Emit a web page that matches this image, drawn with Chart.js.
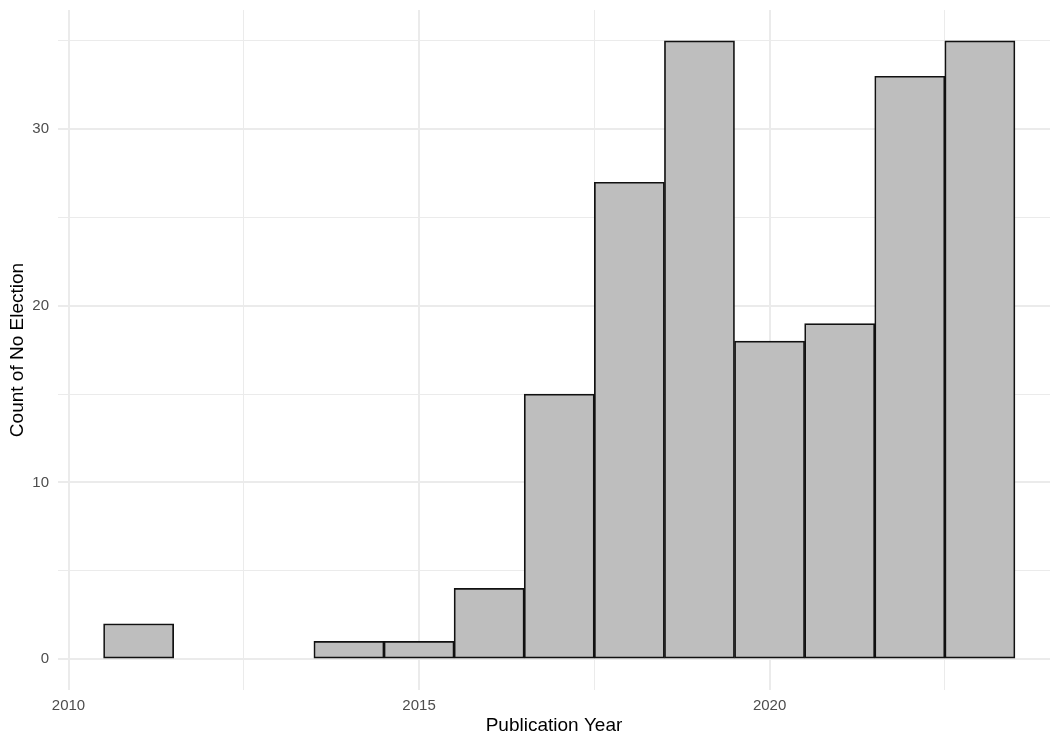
<!DOCTYPE html>
<html>
<head>
<meta charset="utf-8">
<script src="https://cdn.jsdelivr.net/npm/chart.js@4"></script>
<style>
  body { margin: 0; background: #fff; }
  #wrap { width: 1050px; height: 737px; }
</style>
</head>
<body>
<div id="wrap"><canvas id="hist" width="1050" height="737"></canvas></div>
<script>
// publication year bins (one bar per year) and counts
const years = [2011, 2012, 2013, 2014, 2015, 2016, 2017, 2018, 2019, 2020, 2021, 2022, 2023];
const counts = [2, null, null, 1, 1, 4, 15, 27, 35, 18, 19, 33, 35];
const xLabels = [2010, 2015, 2020];
const yLabels = [0, 10, 20, 30];

const gridColor = "#ebebeb";
const tickColor = "#4d4d4d";

let ctx = document.getElementById("hist").getContext("2d");

new Chart(ctx, {
  type: "bar",
  data: {
    datasets: [
      {
        data: years.map((y, i) => ({ x: y, y: counts[i] })),
        backgroundColor: "#bebebe",
        borderColor: "#111111",
        borderWidth: 1.7,
        borderSkipped: false,
        barPercentage: 1,
        categoryPercentage: 1,
      },
    ],
  },
  options: {
    responsive: false,
    animation: false,
    layout: { padding: { top: 10, right: 0, left: 0, bottom: 0 } },
    plugins: {
      legend: { display: false },
      tooltip: { enabled: false },
    },
    scales: {
      x: {
        type: "linear",
        offset: false,
        min: 2009.85,
        max: 2024.0,
        border: { display: false },
        grid: {
          offset: false,
          color: gridColor,
          drawTicks: false,
          lineWidth: (c) => (c.tick && c.tick.value % 5 === 0 ? 2 : 1),
        },
        ticks: {
          stepSize: 2.5,
          includeBounds: false,
          autoSkip: false,
          maxRotation: 0,
          padding: 7,
          color: tickColor,
          font: { family: "Liberation Sans", size: 15 },
          callback: (v) => (xLabels.includes(v) ? String(v) : ""),
        },
        title: {
          display: true,
          text: "Publication Year",
          color: "#000",
          font: { family: "Liberation Sans", size: 19 },
          padding: { top: 0, bottom: 0 },
        },
        afterFit: (scale) => {
          scale.height = 47;
          scale.paddingLeft = 0;
          scale.paddingRight = 0;
        },
      },
      y: {
        min: -1.75,
        max: 36.75,
        border: { display: false },
        grid: {
          color: gridColor,
          drawTicks: false,
          lineWidth: (c) => (c.tick && c.tick.value % 10 === 0 ? 2 : 1),
        },
        ticks: {
          stepSize: 5,
          includeBounds: false,
          padding: 9,
          color: tickColor,
          font: { family: "Liberation Sans", size: 15 },
          callback: (v) => (yLabels.includes(v) ? String(v) : ""),
        },
        title: {
          display: true,
          text: "Count of No Election",
          color: "#000",
          font: { family: "Liberation Sans", size: 19 },
          padding: { top: 6, bottom: 0 },
        },
        afterFit: (scale) => {
          scale.width = 58;
          scale.paddingTop = 0;
          scale.paddingBottom = 0;
        },
      },
    },
  },
});
</script>
</body>
</html>
